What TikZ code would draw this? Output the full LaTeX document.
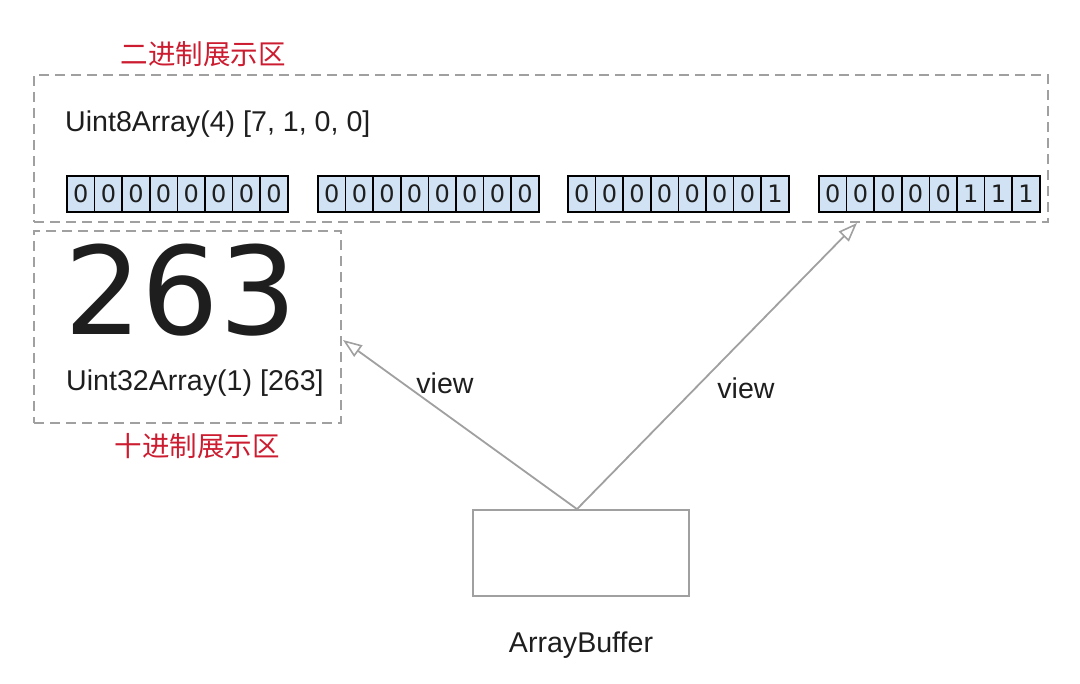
\documentclass[tikz,border=0pt]{standalone}
\usepackage{fontspec}
\setmainfont{Liberation Sans}
\newfontfamily\cjk{Noto Sans CJK SC}
\newfontfamily\dejavu{DejaVu Sans}
\usetikzlibrary{arrows.meta}
\definecolor{boxgray}{RGB}{160,160,160}
\definecolor{cellblue}{RGB}{208,226,243}
\definecolor{labelred}{RGB}{204,28,48}
\definecolor{ink}{RGB}{30,30,30}
\begin{document}
\begin{tikzpicture}[x=1pt,y=-1pt,
  zone/.style={draw=boxgray, line width=1.6pt, dash pattern=on 10pt off 6pt},
  zonelabel/.style={text=labelred, font=\cjk\fontsize{27.5}{31}\selectfont, inner sep=0},
  txt/.style={text=ink, font=\fontsize{28.6}{33}\selectfont, inner sep=0},
  cell/.style={draw=black, line width=1.6pt, fill=cellblue, minimum width=27.6pt, minimum height=36pt, inner sep=0, text=ink, font=\dejavu\fontsize{24}{28}\selectfont},
  viewarrow/.style={draw=boxgray, line width=1.8pt, -{Triangle[open, length=19pt, width=14pt, line width=1.6pt]}},
  bufbox/.style={draw=boxgray, line width=1.8pt, minimum width=216pt, minimum height=86pt, inner sep=0}]
\useasboundingbox (0,0) rectangle (1080,684);
% zones
\node[zone, minimum width=1014pt, minimum height=147pt, inner sep=0] (bin) at (541,148.5) {};
\node[zone, minimum width=307pt, minimum height=192pt, inner sep=0] (dec) at (187.5,327) {};
\node[zonelabel] (binlabel) at (203,54) {二进制展示区};
\node[zonelabel] (declabel) at (197,446) {十进制展示区};
% binary view
\node[txt, anchor=west] (u8) at (65,124) {Uint8Array(4) [7, 1, 0, 0]};
\foreach \b [count=\i] in {0,0,0,0,0,0,0,0}
  \node[cell] (g1-\i) at ({67+(\i-0.5)*27.6},194) {\b};
\foreach \b [count=\i] in {0,0,0,0,0,0,0,0}
  \node[cell] (g2-\i) at ({318+(\i-0.5)*27.6},194) {\b};
\foreach \b [count=\i] in {0,0,0,0,0,0,0,1}
  \node[cell] (g3-\i) at ({568+(\i-0.5)*27.6},194) {\b};
\foreach \b [count=\i] in {0,0,0,0,0,1,1,1}
  \node[cell] (g4-\i) at ({819+(\i-0.5)*27.6},194) {\b};
% decimal view
\node[text=ink, font=\dejavu\fontsize{122}{130}\selectfont, inner sep=0, anchor=base west] (big) at (64,335) {263};
\node[txt, anchor=west] (u32) at (66,383) {Uint32Array(1) [263]};
% buffer
\node[bufbox] (ab) at (581,553) {};
\node[txt] (ablabel) at (581,645) {ArrayBuffer};
\coordinate (decend) at (343,340);
\coordinate (binend) at (857,223);
\draw[viewarrow] (ab.north) ++(-4,0) coordinate (abtop) -- (decend);
\draw[viewarrow] (abtop) -- (binend);
\node[txt] (view1) at (445,383) {view};
\node[txt] (view2) at (746,388) {view};
\end{tikzpicture}
\end{document}
